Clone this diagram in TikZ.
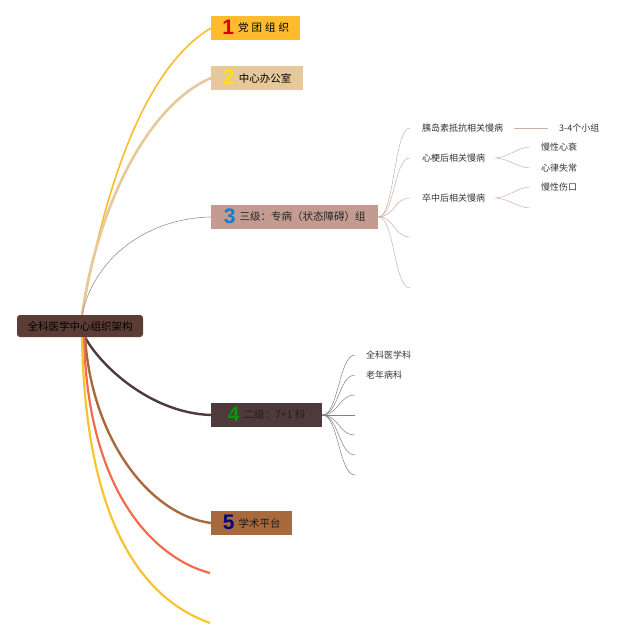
\documentclass[tikz,border=0pt]{standalone}
\usepackage{fontspec}
\setmainfont{Noto Sans CJK SC}
\newfontfamily\numfont{Liberation Sans}
\usetikzlibrary{calc}
\definecolor{rootc}{HTML}{5C3D35}
\definecolor{partyc}{HTML}{FDBB2D}
\definecolor{officec}{HTML}{E6C89A}
\definecolor{thirdc}{HTML}{C39B90}
\definecolor{secondc}{HTML}{4E3A3A}
\definecolor{acadc}{HTML}{A86A3C}
\definecolor{redc}{HTML}{F26B4E}
\definecolor{yelc}{HTML}{F9C32F}
\newcommand{\nr}[2]{\smash{\raisebox{-2.5pt}{\numfont\bfseries\fontsize{21}{21}\selectfont\textcolor{#1}{#2}}}\hspace{4pt}}

\begin{document}
\begin{tikzpicture}[x=1pt, y=-1pt,
    topic/.style={anchor=west, minimum height=24pt, inner sep=0pt, font=\fontsize{10.5}{12}\selectfont},
    leaf/.style={anchor=west, inner sep=0pt, font=\fontsize{9}{10}\selectfont, text=black!80},
    twig3/.style={draw=thirdc!80, line width=0.5pt},
    twig4/.style={draw=black!50, line width=0.5pt}]
      \useasboundingbox (0,0) rectangle (640,641);

      \draw (80,326) node[fill=rootc, rounded corners=3pt, minimum width=126pt, minimum height=22pt,
        inner sep=0pt, font=\fontsize{10.5}{12}\selectfont, text=black] (root) {全科医学中心组织架构};

      \draw (211,28) node[topic, fill=partyc, minimum width=89pt] (party) {\nr{red!85!black}{1}党\hspace{3pt}团\hspace{3pt}组\hspace{3pt}织};
      \draw (211,78) node[topic, fill=officec, minimum width=92pt] (office) {\nr{yellow!85!orange}{2}中心办公室};
      \draw (211,217) node[topic, fill=thirdc, minimum width=167pt, text=black!85] (third) {\nr{cyan!60!blue}{3}三级：专病（状态障碍）组};
      \draw (211,415) node[topic, fill=secondc, minimum width=111pt, text=black!88] (second) {\nr{green!60!black}{4}二级：7+1 科};
      \draw (211,523) node[topic, fill=acadc, minimum width=81pt, text=black!90] (acad) {\nr{blue!50!black}{5}学术平台};

      % main branches
      \draw[partyc, line width=1.6pt] ([xshift=2pt]root.north) .. controls (109,165) and (151,64) .. (party.west);
      \draw[officec, line width=2.6pt] ([xshift=2pt]root.north) .. controls (98,205) and (148,105) .. (office.west);
      \draw[thirdc!90!black, line width=0.6pt] ([xshift=2pt]root.north) .. controls (95,255) and (150,218) .. (third.west);
      \draw[secondc, line width=2.4pt] ([xshift=5pt]root.south) .. controls (100,365) and (150,413) .. (second.west);
      \draw[acadc, line width=2.4pt] ([xshift=5pt]root.south) .. controls (92,440) and (150,515) .. (acad.west);
      \coordinate (redend) at (210,573);
      \coordinate (yelend) at (210,623);
      \draw[redc, line width=2.2pt] ([xshift=4pt]root.south) .. controls (88,500) and (160,560) .. (redend);
      \draw[yelc, line width=2.2pt] ([xshift=2pt]root.south) .. controls (86,550) and (160,605) .. (yelend);

      % level three
      \draw (422,128) node[leaf] (insulin) {胰岛素抵抗相关慢病};
      \draw (422,158) node[leaf] (infarct) {心梗后相关慢病};
      \draw (422,198) node[leaf] (stroke) {卒中后相关慢病};
      \coordinate (third4) at (410,237);
      \coordinate (third5) at (410,288);
      \draw[twig3] (third.east) .. controls +(16,0) and +(-16,0) .. ([xshift=-12pt]insulin.west);
      \draw[twig3] (third.east) .. controls +(16,0) and +(-16,0) .. ([xshift=-12pt]infarct.west);
      \draw[twig3] (third.east) .. controls +(16,0) and +(-16,0) .. ([xshift=-12pt]stroke.west);
      \draw[twig3] (third.east) .. controls +(16,0) and +(-16,0) .. (third4);
      \draw[twig3] (third.east) .. controls +(16,0) and +(-16,0) .. (third5);

      \draw (559,128) node[leaf] (groups) {3-4个小组};
      \draw (541,147) node[leaf] (failure) {慢性心衰};
      \draw (541,168) node[leaf] (arrhyth) {心律失常};
      \draw (541,187) node[leaf] (wound) {慢性伤口};
      \coordinate (stroke2) at (530,208);
      \draw[twig3] ([xshift=11pt]insulin.east) -- ([xshift=-11pt]groups.west);
      \draw[twig3] ([xshift=10pt]infarct.east) .. controls +(12,0) and +(-12,0) .. ([xshift=-11pt]failure.west);
      \draw[twig3] ([xshift=10pt]infarct.east) .. controls +(12,0) and +(-12,0) .. ([xshift=-11pt]arrhyth.west);
      \draw[twig3] ([xshift=10pt]stroke.east) .. controls +(12,0) and +(-12,0) .. ([xshift=-11pt]wound.west);
      \draw[twig3] ([xshift=10pt]stroke.east) .. controls +(12,0) and +(-12,0) .. (stroke2);

      % level two
      \draw (366,355) node[leaf] (general) {全科医学科};
      \draw (366,375) node[leaf] (geriat) {老年病科};
      \coordinate (sec3) at (355,395);
      \coordinate (sec4) at (355,415);
      \coordinate (sec5) at (355,435);
      \coordinate (sec6) at (355,455);
      \coordinate (sec7) at (355,475);
      \draw[twig4] (second.east) .. controls +(16,0) and +(-16,0) .. ([xshift=-11pt]general.west);
      \draw[twig4] (second.east) .. controls +(16,0) and +(-16,0) .. ([xshift=-11pt]geriat.west);
      \draw[twig4] (second.east) .. controls +(16,0) and +(-16,0) .. (sec3);
      \draw[twig4] (second.east) -- (sec4);
      \draw[twig4] (second.east) .. controls +(16,0) and +(-16,0) .. (sec5);
      \draw[twig4] (second.east) .. controls +(16,0) and +(-16,0) .. (sec6);
      \draw[twig4] (second.east) .. controls +(16,0) and +(-16,0) .. (sec7);
\end{tikzpicture}
\end{document}
